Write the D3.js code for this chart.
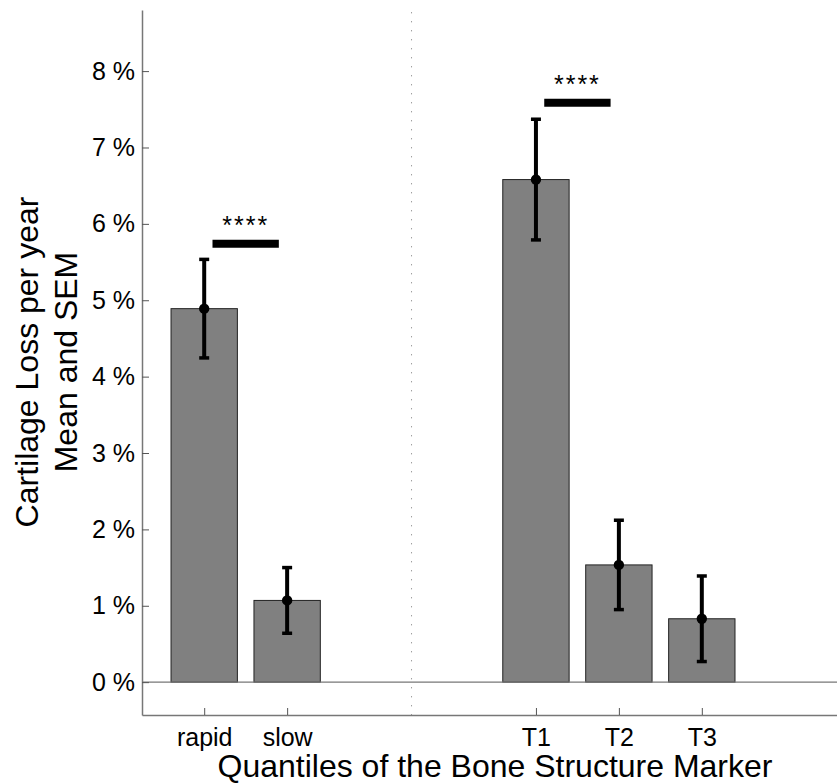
<!DOCTYPE html>
<html>
<head>
<meta charset="utf-8">
<script src="https://cdn.jsdelivr.net/npm/d3@7"></script>
<style>
  body { margin: 0; background: #fff; }
  svg { display: block; font-family: "Liberation Sans", Arial, Helvetica, sans-serif; }
</style>
</head>
<body>
<div id="chart"></div>
<script>
// groups on the x axis (numeric positions, gap between the two groups)
const categories = ["rapid", "slow", "T1", "T2", "T3"];
const positions = [1, 2, 5, 6, 7];
// mean cartilage loss per year (%) and SEM
const means = [4.89, 1.07, 6.58, 1.535, 0.83];
const sems = [0.645, 0.43, 0.79, 0.585, 0.56];
const yTicks = [0, 1, 2, 3, 4, 5, 6, 7, 8];
// significance bars: [from, to, level]
const sigFrom = [1.1, 5.1];
const sigTo = [1.9, 5.9];
const sigLevel = [5.74, 7.585];
const sigText = ["****", "****"];
const separator = 3.5;

const W = 837, H = 783;
const svg = d3.select("#chart").append("svg").attr("width", W).attr("height", H);

const x = d3.scaleLinear().domain([0.25, 8.63]).range([142, 837]);
const y = d3.scaleLinear().domain([-0.43, 8.8]).range([715, 10]);
const barW = x(0.8) - x(0);

const data = categories.map((c, i) => ({ cat: c, pos: positions[i], mean: means[i], sem: sems[i] }));

// dotted separator
svg.append("line")
  .attr("x1", x(separator)).attr("x2", x(separator))
  .attr("y1", y(8.77)).attr("y2", y(-0.43))
  .attr("stroke", "#777").attr("stroke-width", 1)
  .attr("stroke-dasharray", "1,8");

// bars
svg.selectAll(".bar").data(data).enter().append("rect")
  .attr("class", "bar")
  .attr("x", d => x(d.pos) - barW / 2)
  .attr("width", barW)
  .attr("y", d => y(d.mean))
  .attr("height", d => y(0) - y(d.mean))
  .attr("fill", "#808080")
  .attr("stroke", "#222")
  .attr("stroke-width", 1);

// zero line
svg.append("line")
  .attr("x1", x(0.25)).attr("x2", x(8.63))
  .attr("y1", y(0)).attr("y2", y(0))
  .attr("stroke", "#777").attr("stroke-width", 1.2);

// axes
const yAxis = svg.append("g")
  .attr("transform", `translate(${x(0.25)},0)`)
  .call(d3.axisLeft(y).tickValues(yTicks).tickSizeInner(-7).tickSizeOuter(0).tickPadding(7)
    .tickFormat(d => d + " %"));
yAxis.select(".domain").attr("stroke", "#777").attr("stroke-width", 1.5);
yAxis.selectAll(".tick line").attr("stroke", "#555");
yAxis.selectAll("text").attr("font-size", 25).attr("fill", "#000")
  .attr("font-family", "Liberation Sans, Arial, sans-serif");

const xAxis = svg.append("g")
  .attr("transform", `translate(0,${y(-0.43)})`)
  .call(d3.axisBottom(x).tickValues(positions).tickSizeInner(-7).tickSizeOuter(0).tickPadding(13)
    .tickFormat((d, i) => categories[i]));
xAxis.select(".domain").attr("stroke", "#777").attr("stroke-width", 1.5);
xAxis.selectAll(".tick line").attr("stroke", "#555");
xAxis.selectAll("text").attr("font-size", 25).attr("fill", "#000")
  .attr("font-family", "Liberation Sans, Arial, sans-serif");

// error bars
const err = svg.append("g");
err.selectAll(".stem").data(data).enter().append("line")
  .attr("x1", d => x(d.pos)).attr("x2", d => x(d.pos))
  .attr("y1", d => y(d.mean + d.sem)).attr("y2", d => y(d.mean - d.sem))
  .attr("stroke", "#000").attr("stroke-width", 4);
["top", "bottom"].forEach(side => {
  err.selectAll(".cap-" + side).data(data).enter().append("line")
    .attr("x1", d => x(d.pos) - 5).attr("x2", d => x(d.pos) + 5)
    .attr("y1", d => y(side === "top" ? d.mean + d.sem : d.mean - d.sem))
    .attr("y2", d => y(side === "top" ? d.mean + d.sem : d.mean - d.sem))
    .attr("stroke", "#000").attr("stroke-width", 3.5);
});
err.selectAll(".dot").data(data).enter().append("circle")
  .attr("cx", d => x(d.pos)).attr("cy", d => y(d.mean)).attr("r", 5.2)
  .attr("fill", "#000");

// significance markers
sigFrom.forEach((f, i) => {
  svg.append("line")
    .attr("x1", x(f)).attr("x2", x(sigTo[i]))
    .attr("y1", y(sigLevel[i])).attr("y2", y(sigLevel[i]))
    .attr("stroke", "#000").attr("stroke-width", 8);
  svg.append("text")
    .attr("x", (x(f) + x(sigTo[i])) / 2)
    .attr("y", y(sigLevel[i]) - 10)
    .attr("text-anchor", "middle")
    .attr("font-size", 25)
    .attr("letter-spacing", 2)
    .text(sigText[i]);
});

// axis titles
svg.append("text")
  .attr("x", 495)
  .attr("y", 777)
  .attr("text-anchor", "middle")
  .attr("font-size", 32)
  .text("Quantiles of the Bone Structure Marker");

const yl = svg.append("text")
  .attr("transform", "translate(0,362) rotate(-90)")
  .attr("text-anchor", "middle")
  .attr("font-size", 32);
yl.append("tspan").attr("x", 0).attr("y", 38).text("Cartilage Loss per year");
yl.append("tspan").attr("x", 0).attr("y", 76.5).text("Mean and SEM");
</script>
</body>
</html>
